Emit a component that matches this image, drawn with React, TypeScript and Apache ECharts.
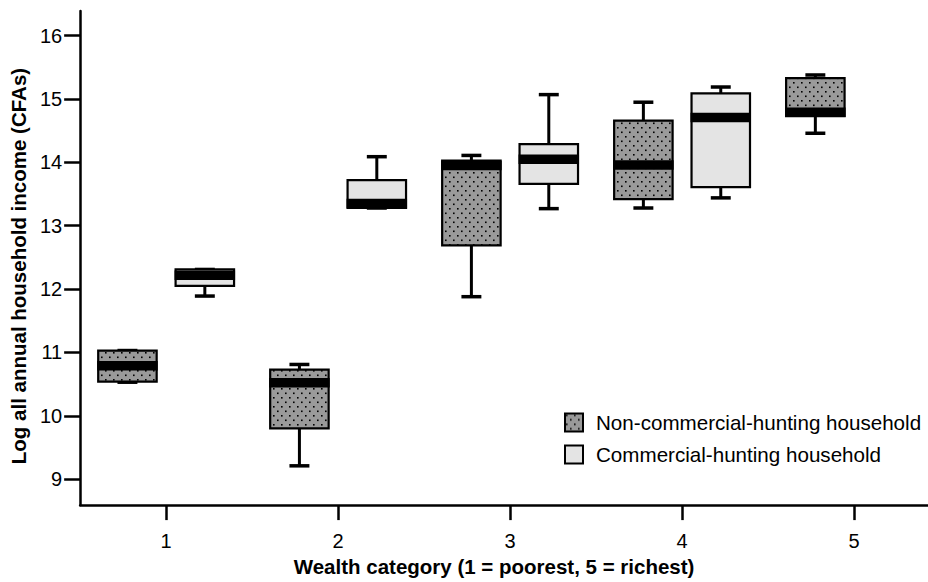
import React, { useEffect, useRef } from 'react';
import * as echarts from 'echarts';

// ---------- data ----------
const categories = [1, 2, 3, 4, 5];
const categoryLabels = ['1', '2', '3', '4', '5'];
const yTicks = [9, 10, 11, 12, 13, 14, 15, 16];

const NC_NAME = 'Non-commercial-hunting household';
const C_NAME = 'Commercial-hunting household';

// [category, min, q1, median, q3, max]
const nonCommercial = [
  [1, 10.53, 10.54, 10.79, 11.03, 11.03],
  [2, 9.21, 9.8, 10.52, 10.73, 10.81],
  [3, 11.88, 12.69, 13.95, 14.03, 14.11],
  [4, 13.28, 13.42, 13.96, 14.66, 14.95],
  [5, 14.46, 14.73, 14.79, 15.33, 15.38],
];
const commercial = [
  [1, 11.89, 12.05, 12.22, 12.31, 12.31],
  [2, 13.28, 13.28, 13.35, 13.72, 14.09],
  [3, 13.27, 13.66, 14.05, 14.29, 15.07],
  [4, 13.44, 13.61, 14.71, 15.09, 15.19],
];

const FONT = '"Liberation Sans", Arial, Helvetica, sans-serif';

function makeDotPattern(): any {
  const c = document.createElement('canvas');
  c.width = 8;
  c.height = 9;
  const ctx = c.getContext('2d')!;
  ctx.fillStyle = '#9a9a9a';
  ctx.fillRect(0, 0, 8, 9);
  ctx.fillStyle = '#000';
  ctx.fillRect(1, 1, 1.6, 1.6);
  ctx.fillRect(5, 5.5, 1.6, 1.6);
  return { image: c.toDataURL(), repeat: 'repeat', imageWidth: 8, imageHeight: 9 };
}

function makeRender(offset: number, fill: any) {
  return (params: any, api: any) => {
    const x = api.value(0) + offset;
    const mn = api.value(1);
    const q1 = api.value(2);
    const md = api.value(3);
    const q3 = api.value(4);
    const mx = api.value(5);
    const pMin = api.coord([x, mn]);
    const pQ1 = api.coord([x, q1]);
    const pMd = api.coord([x, md]);
    const pQ3 = api.coord([x, q3]);
    const pMax = api.coord([x, mx]);
    const half = api.size([0.34, 0])[0] / 2;
    const capHalf = api.size([0.116, 0])[0] / 2;
    const cx = pMd[0];
    const lineStyle = { stroke: '#000', lineWidth: 3 };
    return {
      type: 'group',
      children: [
        { type: 'line', shape: { x1: cx, y1: pQ3[1], x2: cx, y2: pMax[1] }, style: lineStyle },
        { type: 'line', shape: { x1: cx, y1: pQ1[1], x2: cx, y2: pMin[1] }, style: lineStyle },
        { type: 'line', shape: { x1: cx - capHalf, y1: pMax[1], x2: cx + capHalf, y2: pMax[1] }, style: { stroke: '#000', lineWidth: 3.5 } },
        { type: 'line', shape: { x1: cx - capHalf, y1: pMin[1], x2: cx + capHalf, y2: pMin[1] }, style: { stroke: '#000', lineWidth: 3.5 } },
        {
          type: 'rect',
          shape: { x: cx - half, y: pQ3[1], width: half * 2, height: pQ1[1] - pQ3[1] },
          style: { fill, stroke: '#000', lineWidth: 2.2 },
        },
        {
          type: 'rect',
          shape: { x: cx - half - 1, y: pMd[1] - 4.75, width: half * 2 + 2, height: 9.5 },
          style: { fill: '#000' },
        },
      ],
    };
  };
}

export default function App() {
  const ref = useRef<HTMLDivElement>(null);
  useEffect(() => {
    document.body.style.margin = '0';
    const chart = echarts.init(ref.current!, null, { renderer: 'svg' });
    const dots = makeDotPattern();
    const light = '#e4e4e4';
    const option: any = {
      animation: false,
      backgroundColor: '#fff',
      textStyle: { fontFamily: FONT },
      grid: { left: 79, right: 0, top: 11, bottom: 71, containLabel: false },
      legend: {
        orient: 'vertical',
        left: 564,
        top: 412,
        padding: 0,
        itemWidth: 18,
        itemHeight: 18,
        itemGap: 11,
        textStyle: { fontSize: 20.6, color: '#000', fontFamily: FONT, padding: [0, 0, 0, 8] },
        data: [
          { name: NC_NAME, icon: 'rect', itemStyle: { color: dots, borderColor: '#000', borderWidth: 2 } },
          { name: C_NAME, icon: 'rect', itemStyle: { color: light, borderColor: '#000', borderWidth: 2 } },
        ],
      },
      xAxis: {
        type: 'value',
        min: 0.5,
        max: 5.43,
        name: 'Wealth category (1 = poorest, 5 = richest)',
        nameLocation: 'middle',
        nameGap: 49,
        nameTextStyle: { fontSize: 20.5, fontWeight: 'bold', color: '#000', fontFamily: FONT, padding: [0, 20, 0, 0] },
        axisLine: { show: true, onZero: false, lineStyle: { color: '#000', width: 2.5 } },
        axisTick: { show: true, length: 15, customValues: categories, lineStyle: { color: '#000', width: 2.5 } },
        axisLabel: {
          customValues: categories,
          margin: 26,
          fontSize: 20,
          color: '#000',
          fontFamily: FONT,
          formatter: (v: number) => categoryLabels[categories.indexOf(v)] ?? String(v),
        },
        splitLine: { show: false },
      },
      yAxis: {
        type: 'value',
        min: 8.59,
        max: 16.39,
        name: 'Log all annual household income (CFAs)',
        nameLocation: 'middle',
        nameGap: 46,
        nameTextStyle: { fontSize: 20.5, fontWeight: 'bold', color: '#000', fontFamily: FONT, padding: [0, 16, 0, 0] },
        axisLine: { show: true, onZero: false, lineStyle: { color: '#000', width: 2.5 } },
        axisTick: { show: true, length: 16, customValues: yTicks, lineStyle: { color: '#000', width: 2.5 } },
        axisLabel: { customValues: yTicks, margin: 18, fontSize: 20, color: '#000', fontFamily: FONT },
        splitLine: { show: false },
      },
      series: [
        {
          type: 'custom',
          name: NC_NAME,
          data: nonCommercial,
          clip: false,
          itemStyle: { color: '#9a9a9a' },
          encode: { x: 0, y: [1, 2, 3, 4, 5] },
          renderItem: makeRender(-0.225, dots),
        },
        {
          type: 'custom',
          name: C_NAME,
          data: commercial,
          clip: false,
          itemStyle: { color: light },
          encode: { x: 0, y: [1, 2, 3, 4, 5] },
          renderItem: makeRender(0.225, light),
        },
      ],
    };
    chart.setOption(option);
    return () => chart.dispose();
  }, []);
  return <div ref={ref} style={{ width: 928, height: 582 }} />;
}
